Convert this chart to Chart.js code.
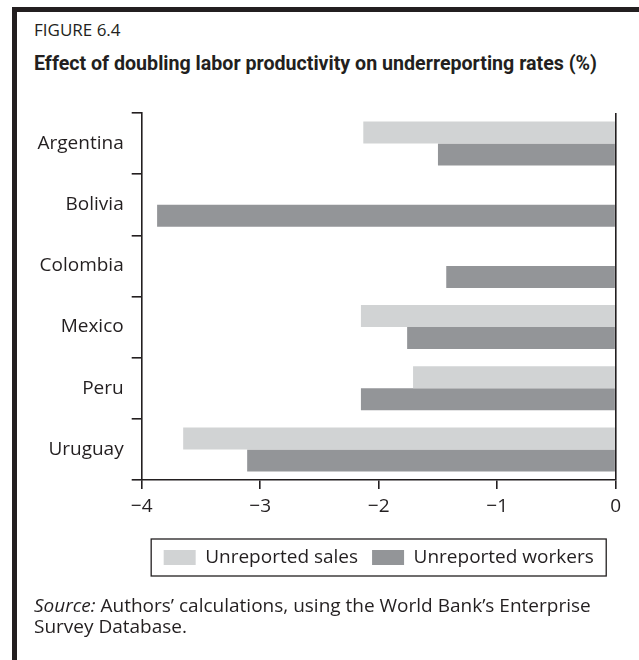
<!DOCTYPE html>
<html>
<head>
<meta charset="utf-8">
<script src="https://cdn.jsdelivr.net/npm/chart.js@4/dist/chart.umd.min.js"></script>
<style>
  html, body { margin:0; padding:0; background:#fff; }
  body { width:639px; height:660px; position:relative; overflow:hidden; font-family:"Open Sans", "Noto Sans", sans-serif; color:#231f20; }
  #frame { position:absolute; left:12px; top:7px; right:0; bottom:0; border-left:5px solid #231f20; border-top:5px solid #231f20; }
  #fig { position:absolute; left:34px; top:20px; font-size:17px; line-height:20px; white-space:nowrap; }
  #title { position:absolute; left:34px; top:52px; font-family:"Liberation Sans Narrow", "Roboto", "DejaVu Sans Condensed", sans-serif; font-weight:bold; font-size:20px; line-height:22px; white-space:nowrap; transform-origin:0 0; display:inline-block; }
  #source { position:absolute; left:34px; top:595px; font-size:19px; line-height:21px; white-space:nowrap; }
  #wrap { position:absolute; left:0; top:0; width:639px; height:600px; }
</style>
</head>
<body>
<div id="frame"></div>
<div id="fig">FIGURE 6.4</div>
<div id="title">Effect of doubling labor productivity on underreporting rates (%)</div>
<div id="wrap"><canvas id="c" width="639" height="600"></canvas></div>
<div id="source"><i>Source:</i> Authors’ calculations, using the World Bank’s Enterprise<br>Survey Database.</div>
<script>
const categories = ["Argentina", "Bolivia", "Colombia", "Mexico", "Peru", "Uruguay"];
const salesValues = [-2.13, null, null, -2.15, -1.71, -3.65];
const workersValues = [-1.50, -3.87, -1.43, -1.76, -2.15, -3.11];
const seriesNames = ["Unreported sales", "Unreported workers"];
const xTickValues = [-4, -3, -2, -1, 0];
const xTickLabels = ["−4", "−3", "−2", "−1", "0"];

const INK = "#231f20";
const FONT = "'Open Sans', 'Noto Sans', sans-serif";

// fit the condensed bold title to the reference width
(function () {
  const t = document.getElementById("title");
  const w = t.getBoundingClientRect().width;
  if (w > 0) t.style.transform = "scaleX(" + (563 / w) + ")";
})();

const legendBox = {
  id: "legendBox",
  afterDraw(chart) {
    const lg = chart.legend;
    if (!lg || !lg.legendHitBoxes || !lg.legendHitBoxes.length) return;
    const hb = lg.legendHitBoxes;
    let l = Infinity, r = -Infinity, t = Infinity, b = -Infinity;
    hb.forEach(h => { l = Math.min(l, h.left); r = Math.max(r, h.left + h.width); t = Math.min(t, h.top); b = Math.max(b, h.top + h.height); });
    const ctx = chart.ctx;
    ctx.save();
    ctx.strokeStyle = INK;
    ctx.lineWidth = 1.3;
    const padX = 12.5, padY = 9;
    ctx.strokeRect(l - padX, t - padY, (r - l) + 2 * padX, (b - t) + 2 * padY);
    ctx.restore();
  }
};

new Chart(document.getElementById("c"), {
  type: "bar",
  data: {
    labels: categories,
    datasets: [
      { label: seriesNames[0], data: salesValues, backgroundColor: "#d1d3d4", borderWidth: 0 },
      { label: seriesNames[1], data: workersValues, backgroundColor: "#939598", borderWidth: 0 }
    ]
  },
  options: {
    indexAxis: "y",
    responsive: false,
    animation: false,
    events: [],
    layout: { padding: { top: 113, right: 23.3, bottom: 23, left: 0 } },
    datasets: { bar: { categoryPercentage: 0.72, barPercentage: 1.0 } },
    plugins: {
      tooltip: { enabled: false },
      legend: {
        position: "bottom",
        fullSize: false,
        labels: {
          color: INK,
          font: { family: FONT, size: 19 },
          boxWidth: 32,
          boxHeight: 15,
          padding: 14,
          useBorderRadius: false
        }
      }
    },
    scales: {
      x: {
        type: "linear",
        min: -4,
        max: 0,
        afterBuildTicks(scale) { scale.ticks = xTickValues.map(v => ({ value: v })); },
        afterFit(scale) { scale.height = 54; },
        ticks: {
          color: INK,
          font: { family: FONT, size: 19 },
          padding: 6,
          callback(value) { const i = xTickValues.indexOf(value); return i >= 0 ? xTickLabels[i] : ""; }
        },
        grid: {
          drawOnChartArea: true,
          color: (ctx) => (ctx.tick && ctx.tick.value === 0 ? INK : "rgba(0,0,0,0)"),
          lineWidth: 1.6,
          tickColor: INK,
          tickLength: 9,
          tickWidth: 1.6
        },
        border: { display: true, color: INK, width: 1.6 }
      },
      y: {
        afterFit(scale) { scale.width = 141.7; },
        ticks: {
          color: INK,
          font: { family: FONT, size: 19 },
          padding: 8
        },
        grid: {
          drawOnChartArea: false,
          offset: true,
          color: INK,
          tickColor: INK,
          tickLength: 10,
          tickWidth: 1.6,
          lineWidth: 1.6
        },
        border: { display: true, color: INK, width: 1.6 }
      }
    }
  },
  plugins: [legendBox]
});
</script>
</body>
</html>
